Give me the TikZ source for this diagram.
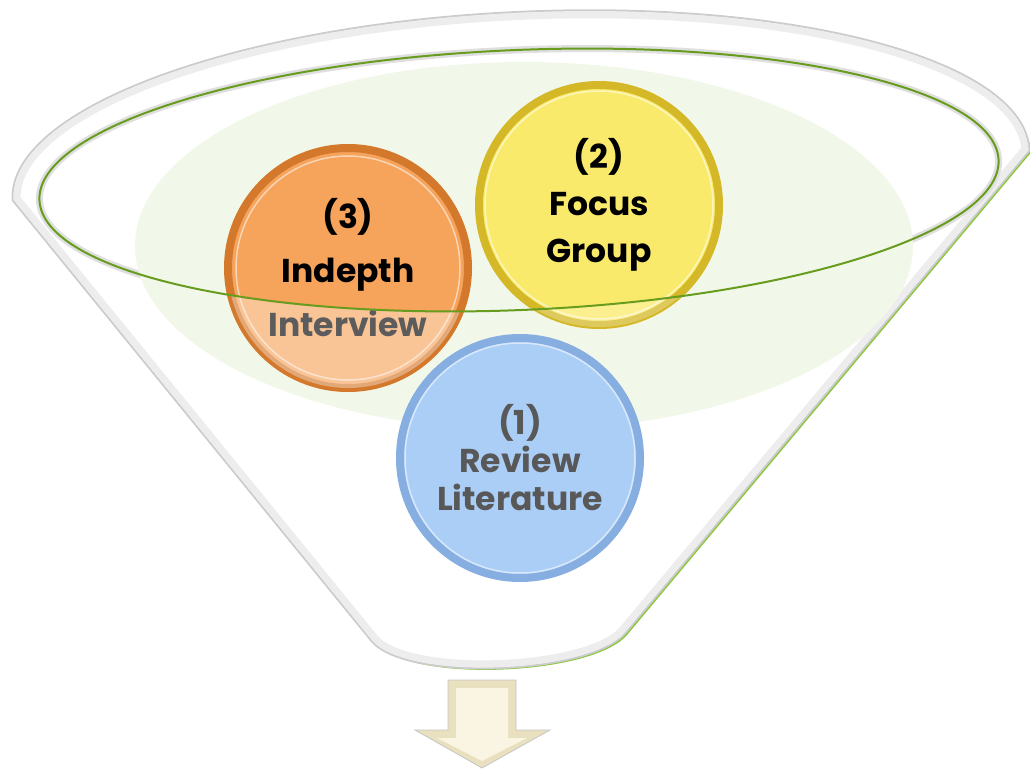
\documentclass[tikz,border=0pt]{standalone}
\usepackage{fontspec}
\setmainfont{Poppins}
\usetikzlibrary{positioning}
\definecolor{rimgreen}{RGB}{141,198,63}
\definecolor{linegreen}{RGB}{104,156,30}
\definecolor{palegreen}{RGB}{242,248,233}
\definecolor{orangefill}{RGB}{246,163,92}
\definecolor{orangering}{RGB}{212,120,44}
\definecolor{yellowfill}{RGB}{250,234,108}
\definecolor{yellowring}{RGB}{212,184,40}
\definecolor{bluefill}{RGB}{170,206,246}
\definecolor{bluering}{RGB}{134,174,224}
\definecolor{textgrey}{RGB}{88,88,88}
\definecolor{arrowout}{RGB}{232,224,190}
\definecolor{arrowin}{RGB}{250,245,226}
\newcommand{\bodypath}{(13.6,199.8) .. controls (9.2,110.4) and (232.8,26.9) .. (513.1,13.2) .. controls (793.4,-0.5) and (1024,60.8) .. (1028.4,150.2) -- (625,632) .. controls (590,674) and (405,681) .. (372,640) -- cycle}
\newcommand{\mouth}{(519,180) ellipse (480 and 130)}
\tikzset{
x=1pt, y=-1pt, % one unit is one pixel of the picture, y runs down
innertilt/.style={rotate around={2.4:(519,180)}}, % the mouth leans a little
shadowlay/.style={fill=rimgreen, shift={(2.5,2.5)}}, % green edge seen on the lower right
edgelay/.style={draw=gray!40, line width=4pt, line join=round}, % soft grey outline
filllay/.style={fill=white}, % white body
stage/.style={circle, minimum size=240pt, inner sep=0pt, align=center, line width=8pt, font=\bfseries\fontsize{33}{50}\selectfont}, % the three method circles
shine/.style={draw=white, opacity=0.55, line width=1.5pt}, % highlight inside each ring
arrowbody/.style={fill=arrowout, draw=gray!45, line width=0.8pt},
}
\begin{document}
\begin{tikzpicture}
\useasboundingbox (0,0) rectangle (1030,770);
\foreach \lay in {shadowlay, edgelay, filllay}
  \path[\lay] \bodypath;
\begin{scope}
\clip \bodypath;
\draw[gray!14, line width=14pt, line join=round] \bodypath;
\end{scope}
\draw[gray!25, line width=7pt, innertilt] \mouth;
\fill[palegreen] (524,246) ellipse (389 and 184);
\node[stage, fill=orangefill, draw=orangering, font=\bfseries\fontsize{33}{54}\selectfont] (c3) at (348,268) {(3)\\Indepth\\Interview};
\node[stage, fill=yellowfill, draw=yellowring, font=\bfseries\fontsize{33}{47}\selectfont] (c2) at (599,205) {(2)\\Focus\\Group};
\draw[shine] (c3.center) circle (112);
\draw[shine] (c2.center) circle (114);
\begin{scope}
\clip (c3.center) circle (120);
\fill[white, opacity=0.36, even odd rule, innertilt] (0,0) rectangle (1030,770) \mouth;
\end{scope}
\begin{scope}
\clip (c2.center) circle (122);
\fill[white, opacity=0.25, even odd rule, innertilt] (0,0) rectangle (1030,770) \mouth;
\end{scope}
\draw[linegreen, line width=2pt, innertilt] \mouth;
\node[stage, fill=bluefill, draw=bluering, text=textgrey, font=\bfseries\fontsize{33}{38}\selectfont] (c1) at (520,458) {(1)\\Review\\Literature};
\draw[shine] (c1.center) circle (115);
\draw[arrowbody] (448,680) -- (516,680) -- (516,730) -- (550,730) -- (482,768) -- (415,730) -- (448,730) -- cycle;
\fill[arrowin] (456,688) -- (508,688) -- (508,738) -- (527,738) -- (482,761) -- (437,738) -- (456,738) -- cycle;
\end{tikzpicture}
\end{document}
